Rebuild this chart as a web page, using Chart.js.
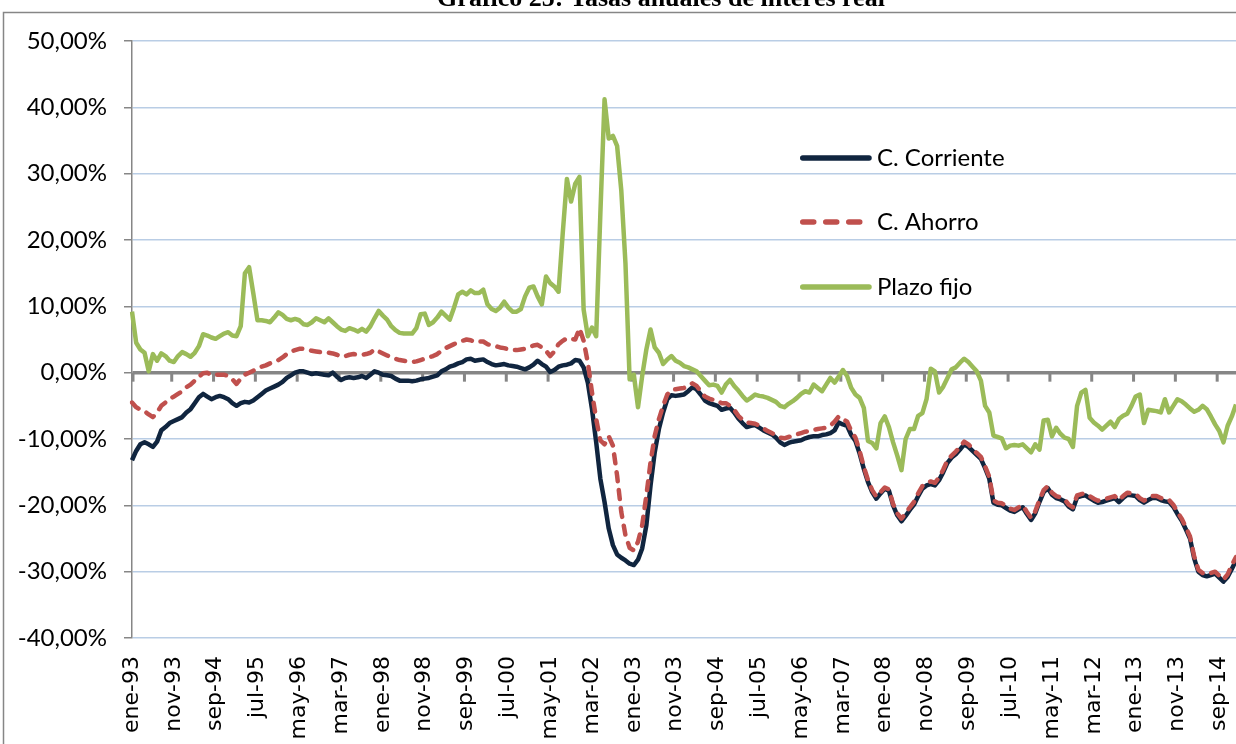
<!DOCTYPE html>
<html><head><meta charset="utf-8">
<script src="https://cdn.jsdelivr.net/npm/chart.js@4/dist/chart.umd.min.js"></script>
<style>html,body{margin:0;padding:0;background:#fff;overflow:hidden}#wrap{position:relative;width:1236px;height:744px}</style>
</head><body><div id="wrap"><canvas id="c" width="1236" height="744"></canvas></div>
<script>
const chartTitle = 'Gráfico 25: Tasas anuales de interés real';
const monthNames = ['ene','feb','mar','abr','may','jun','jul','ago','sep','oct','nov','dic'];
const startYear = 1993;
const seriesNames = ['C. Corriente', 'C. Ahorro', 'Plazo fijo'];

const corriente = [
 -13.2,-11.8,-10.8,-10.5,-10.8,-11.2,-10.4,-8.7,-8.2,-7.6,-7.3,-7.0,
 -6.7,-6.0,-5.5,-4.6,-3.7,-3.2,-3.6,-4.0,-3.7,-3.5,-3.7,-4.0,
 -4.6,-5.0,-4.6,-4.4,-4.5,-4.2,-3.7,-3.2,-2.7,-2.4,-2.1,-1.8,
 -1.4,-0.8,-0.4,0.0,0.2,0.2,0.0,-0.2,-0.1,-0.2,-0.3,-0.4,
 0.0,-0.6,-1.1,-0.8,-0.7,-0.8,-0.7,-0.5,-0.8,-0.3,0.2,0.0,
 -0.3,-0.4,-0.5,-0.9,-1.2,-1.2,-1.2,-1.3,-1.2,-1.0,-0.9,-0.8,
 -0.6,-0.4,0.2,0.5,0.9,1.1,1.4,1.6,2.0,2.1,1.8,1.9,
 2.0,1.6,1.3,1.1,1.2,1.3,1.1,1.0,0.9,0.7,0.5,0.8,
 1.2,1.8,1.3,0.9,0.1,0.4,0.9,1.1,1.2,1.4,1.9,1.8,
 0.8,-1.5,-5.5,-10.5,-16.0,-19.5,-23.5,-26.0,-27.4,-27.9,-28.3,-28.8,
 -29.0,-28.2,-26.5,-23.0,-17.0,-12.0,-8.5,-6.0,-4.0,-3.4,-3.5,-3.4,
 -3.3,-2.8,-2.2,-2.5,-3.3,-4.2,-4.6,-4.8,-5.0,-5.6,-5.4,-5.3,
 -6.0,-6.9,-7.6,-8.2,-8.0,-7.9,-8.3,-8.7,-9.0,-9.3,-9.8,-10.5,
 -10.9,-10.6,-10.4,-10.3,-10.2,-9.9,-9.7,-9.6,-9.6,-9.4,-9.3,-9.1,
 -8.7,-7.5,-7.8,-8.0,-9.4,-10.3,-12.2,-14.5,-16.5,-18.0,-19.0,-18.2,
 -17.5,-17.8,-20.0,-21.5,-22.4,-21.6,-20.7,-19.9,-18.6,-17.5,-17.0,-16.8,
 -17.0,-16.2,-15.0,-13.6,-12.8,-12.3,-11.6,-10.8,-11.2,-11.8,-12.4,-13.0,
 -14.4,-16.0,-19.6,-19.9,-20.0,-20.4,-20.8,-21.0,-20.6,-20.3,-21.3,-22.2,
 -21.2,-19.5,-18.0,-17.4,-18.4,-18.9,-19.1,-19.4,-20.2,-20.6,-18.8,-18.6,
 -18.5,-18.9,-19.3,-19.6,-19.5,-19.3,-19.1,-18.9,-19.5,-18.9,-18.4,-18.5,
 -18.6,-19.2,-19.6,-19.2,-18.9,-18.9,-19.2,-19.4,-19.5,-20.2,-21.3,-22.3,
 -23.6,-25.0,-28.0,-30.0,-30.5,-30.7,-30.5,-30.3,-30.9,-31.5,-30.8,-29.6,
 -28.3
];

const ahorro = [
 -4.5,-5.2,-5.6,-5.8,-6.3,-6.7,-6.0,-5.0,-4.5,-4.0,-3.6,-3.2,
 -2.8,-2.2,-1.8,-1.2,-0.6,-0.1,0.0,-0.4,-0.3,-0.3,-0.3,-0.5,
 -1.0,-1.7,-0.9,-0.3,0.0,0.3,0.6,0.9,1.1,1.4,1.7,1.9,
 2.3,2.8,3.2,3.4,3.6,3.6,3.5,3.3,3.2,3.1,3.0,3.0,
 2.9,2.7,2.4,2.5,2.7,2.8,2.7,2.7,2.8,3.0,3.5,3.2,
 2.9,2.6,2.3,2.1,1.9,1.8,1.7,1.6,1.7,1.9,2.1,2.3,
 2.5,2.8,3.3,3.7,4.0,4.3,4.6,4.8,5.0,4.9,4.6,4.7,
 4.7,4.3,4.1,4.0,3.8,3.7,3.5,3.4,3.4,3.5,3.6,3.8,
 4.1,4.2,3.8,3.3,2.5,3.2,4.3,4.8,5.2,5.1,5.0,6.7,
 4.8,1.5,-3.0,-7.0,-10.2,-10.8,-9.6,-11.0,-15.5,-21.0,-24.5,-26.4,
 -26.8,-25.5,-23.0,-18.5,-13.5,-9.5,-7.0,-5.0,-3.3,-2.6,-2.5,-2.4,
 -2.3,-2.0,-1.6,-2.0,-2.8,-3.6,-3.9,-4.1,-4.2,-4.6,-4.6,-5.0,
 -5.6,-6.5,-7.1,-7.5,-7.6,-7.7,-8.0,-8.4,-8.8,-9.1,-9.5,-9.8,
 -9.9,-9.7,-9.5,-9.3,-9.1,-8.9,-8.8,-8.6,-8.5,-8.4,-8.3,-8.0,
 -7.4,-6.6,-7.0,-7.4,-8.8,-9.8,-11.8,-14.2,-16.2,-17.7,-18.7,-18.0,
 -17.3,-17.6,-19.8,-21.2,-22.0,-21.2,-20.3,-19.5,-18.2,-17.1,-16.6,-16.4,
 -16.6,-15.8,-14.6,-13.2,-12.5,-11.9,-11.2,-10.4,-10.8,-11.5,-12.1,-12.7,
 -14.1,-15.7,-19.3,-19.6,-19.7,-20.1,-20.5,-20.7,-20.3,-20.0,-21.0,-21.9,
 -20.9,-19.2,-17.7,-17.1,-18.1,-18.6,-18.8,-19.1,-19.9,-20.3,-18.5,-18.3,
 -18.2,-18.6,-19.0,-19.3,-19.2,-19.0,-18.8,-18.6,-19.2,-18.6,-18.1,-18.2,
 -18.3,-18.9,-19.3,-18.9,-18.6,-18.6,-18.9,-19.1,-19.2,-19.9,-21.0,-22.0,
 -23.3,-24.7,-27.7,-29.7,-30.2,-30.4,-30.2,-30.0,-30.6,-31.2,-30.4,-29.0,
 -27.8
];

const plazoFijo = [
 9.2,4.5,3.5,3.0,0.2,2.8,1.8,2.9,2.5,1.8,1.6,2.5,
 3.1,2.8,2.4,3.0,4.0,5.8,5.6,5.3,5.1,5.5,5.9,6.1,
 5.6,5.5,7.0,15.0,15.9,12.0,7.9,7.9,7.8,7.6,8.3,9.1,
 8.7,8.1,7.9,8.1,7.9,7.3,7.2,7.6,8.2,7.9,7.6,8.2,
 7.6,7.0,6.5,6.3,6.7,6.5,6.2,6.6,6.2,7.0,8.2,9.3,
 8.6,8.0,7.0,6.4,6.0,5.9,5.9,5.9,6.7,8.8,8.9,7.2,
 7.6,8.3,9.2,8.6,8.0,9.8,11.8,12.2,11.8,12.4,12.0,12.0,
 12.5,10.3,9.6,9.3,9.8,10.7,9.8,9.2,9.2,9.6,11.5,12.8,
 13.0,11.5,10.3,14.5,13.5,13.0,12.2,21.0,29.2,25.8,28.5,29.5,
 9.5,5.5,6.8,5.5,24.0,41.2,35.3,35.7,34.2,27.5,16.5,-1.0,
 -0.3,-5.2,-0.5,3.5,6.5,3.8,3.0,1.3,2.0,2.5,1.8,1.5,
 1.0,0.8,0.5,0.2,-0.5,-1.2,-1.9,-1.8,-2.0,-3.0,-1.8,-1.1,
 -2.0,-2.7,-3.5,-4.2,-3.8,-3.3,-3.5,-3.6,-3.8,-4.1,-4.4,-5.0,
 -5.2,-4.7,-4.3,-3.8,-3.2,-2.8,-3.0,-1.8,-2.3,-2.8,-1.8,-0.8,
 -1.5,-0.6,0.4,-0.5,-2.3,-3.3,-3.8,-5.3,-10.3,-10.6,-11.4,-7.6,
 -6.6,-8.2,-10.5,-12.5,-14.7,-10.0,-8.5,-8.5,-6.5,-6.1,-4.0,0.6,
 0.2,-3.0,-2.1,-0.8,0.5,0.8,1.5,2.1,1.6,0.9,0.2,-1.2,
 -5.0,-6.0,-9.5,-9.7,-9.9,-11.4,-11.0,-10.9,-11.0,-10.8,-11.4,-12.0,
 -10.8,-11.6,-7.2,-7.1,-9.6,-8.3,-9.2,-9.8,-10.0,-11.2,-5.0,-3.0,
 -2.6,-6.8,-7.5,-8.0,-8.6,-8.0,-7.4,-8.2,-7.0,-6.5,-6.2,-5.0,
 -3.6,-3.3,-7.6,-5.6,-5.7,-5.8,-6.0,-4.0,-6.0,-5.0,-4.0,-4.3,
 -4.8,-5.4,-5.9,-5.6,-5.0,-5.5,-6.6,-7.8,-8.8,-10.5,-8.0,-6.6,
 -4.8
];

const categories = [];
for (let i = 0; i < corriente.length; i++) {
  const yr = startYear + Math.floor(i / 12);
  categories.push(monthNames[i % 12] + '-' + String(yr % 100).padStart(2, '0'));
}

const framePlugin = {
  id: 'frame',
  beforeDraw(chart) {
    const ctx = chart.ctx;
    ctx.save();
    ctx.fillStyle = '#fff';
    ctx.fillRect(0, 0, chart.width, chart.height);
    ctx.strokeStyle = '#868686';
    ctx.lineWidth = 1.5;
    ctx.beginPath();
    ctx.moveTo(3.5, chart.height + 5);
    ctx.lineTo(3.5, 12.5);
    ctx.lineTo(chart.width + 5, 12.5);
    ctx.stroke();
    ctx.fillStyle = '#000';
    ctx.font = 'bold 26px "Liberation Serif", "Times New Roman", serif';
    ctx.textAlign = 'center';
    ctx.textBaseline = 'alphabetic';
    ctx.fillText(chartTitle, 661, 6);
    ctx.restore();
  }
};

const zeroTicksPlugin = {
  id: 'zeroTicks',
  beforeDatasetsDraw(chart) {
    const xs = chart.scales.x, ys = chart.scales.y, ctx = chart.ctx;
    const y0 = ys.getPixelForValue(0);
    const step = xs.getPixelForValue(1) - xs.getPixelForValue(0);
    ctx.save();
    ctx.fillStyle = '#868686';
    for (let i = 0; i < chart.data.labels.length; i += 10) {
      let x = xs.getPixelForValue(i) - step / 2;
      if (x < chart.chartArea.left + 1) x = chart.chartArea.left + 1;
      ctx.fillRect(x - 1.5, y0, 3, 9);
    }
    ctx.restore();
  }
};

const legendPlugin = {
  id: 'customLegend',
  afterDatasetsDraw(chart) {
    const ctx = chart.ctx;
    const rows = [158, 222, 287];
    ctx.save();
    chart.data.datasets.forEach((ds, k) => {
      const y = rows[k];
      ctx.strokeStyle = ds.borderColor;
      ctx.lineWidth = 5.5;
      ctx.lineCap = 'round';
      if (ds.borderDash) { ctx.setLineDash([11, 12]); } else { ctx.setLineDash([]); }
      ctx.beginPath();
      ctx.moveTo(802.75, y);
      ctx.lineTo(ds.borderDash ? 859.75 : 869, y);
      ctx.stroke();
      ctx.setLineDash([]);
      ctx.fillStyle = '#000';
      ctx.font = '24px Lato, "Open Sans", sans-serif';
      ctx.textAlign = 'left';
      ctx.textBaseline = 'middle';
      ctx.fillText(ds.label, 877, y);
    });
    ctx.restore();
  }
};

new Chart(document.getElementById('c'), {
  type: 'line',
  data: {
    labels: categories,
    datasets: [
      { label: seriesNames[0], data: corriente, borderColor: '#10253F', borderWidth: 4.5, order: 3 },
      { label: seriesNames[1], data: ahorro, borderColor: '#C0504D', borderWidth: 4.5, borderDash: [9, 9], borderCapStyle: 'round', order: 2 },
      { label: seriesNames[2], data: plazoFijo, borderColor: '#9BBB59', borderWidth: 4.5, order: 1 }
    ]
  },
  options: {
    responsive: false,
    devicePixelRatio: 1,
    animation: false,
    elements: { point: { radius: 0 }, line: { tension: 0, borderJoinStyle: 'round', fill: false } },
    layout: { padding: { top: 41, left: 0, right: 0, bottom: 0 } },
    plugins: { legend: { display: false }, tooltip: { enabled: false }, title: { display: false } },
    scales: {
      x: {
        type: 'category',
        offset: false,
        grid: { display: false, drawTicks: false },
        border: { display: false },
        ticks: {
          autoSkip: false, maxRotation: 90, minRotation: 90, padding: 18, color: '#000',
          font: { family: 'DejaVu Sans, Verdana, sans-serif', size: 22 },
          callback: function (v, i) { return i % 10 === 0 ? this.getLabelForValue(v) : ''; }
        },
        afterFit: s => { s.height = 106; s.paddingLeft = 0; s.paddingRight = 0; }
      },
      y: {
        min: -40, max: 50,
        ticks: {
          stepSize: 10, padding: 17, color: '#000',
          font: { family: 'Lato', size: 24 },
          callback: v => v.toFixed(2).replace('.', ',') + '%'
        },
        grid: {
          color: c => (c.tick && c.tick.value === 0) ? '#868686' : '#B9CDE5',
          lineWidth: c => (c.tick && c.tick.value === 0) ? 3.5 : 1.5,
          tickColor: '#868686', tickLength: 8, tickWidth: 1.5, drawTicks: true
        },
        border: { display: true, color: '#868686', width: 1.5 },
        afterFit: s => { s.width = 132; s.paddingTop = 0; s.paddingBottom = 0; }
      }
    }
  },
  plugins: [framePlugin, zeroTicksPlugin, legendPlugin]
});
</script>
</body></html>
